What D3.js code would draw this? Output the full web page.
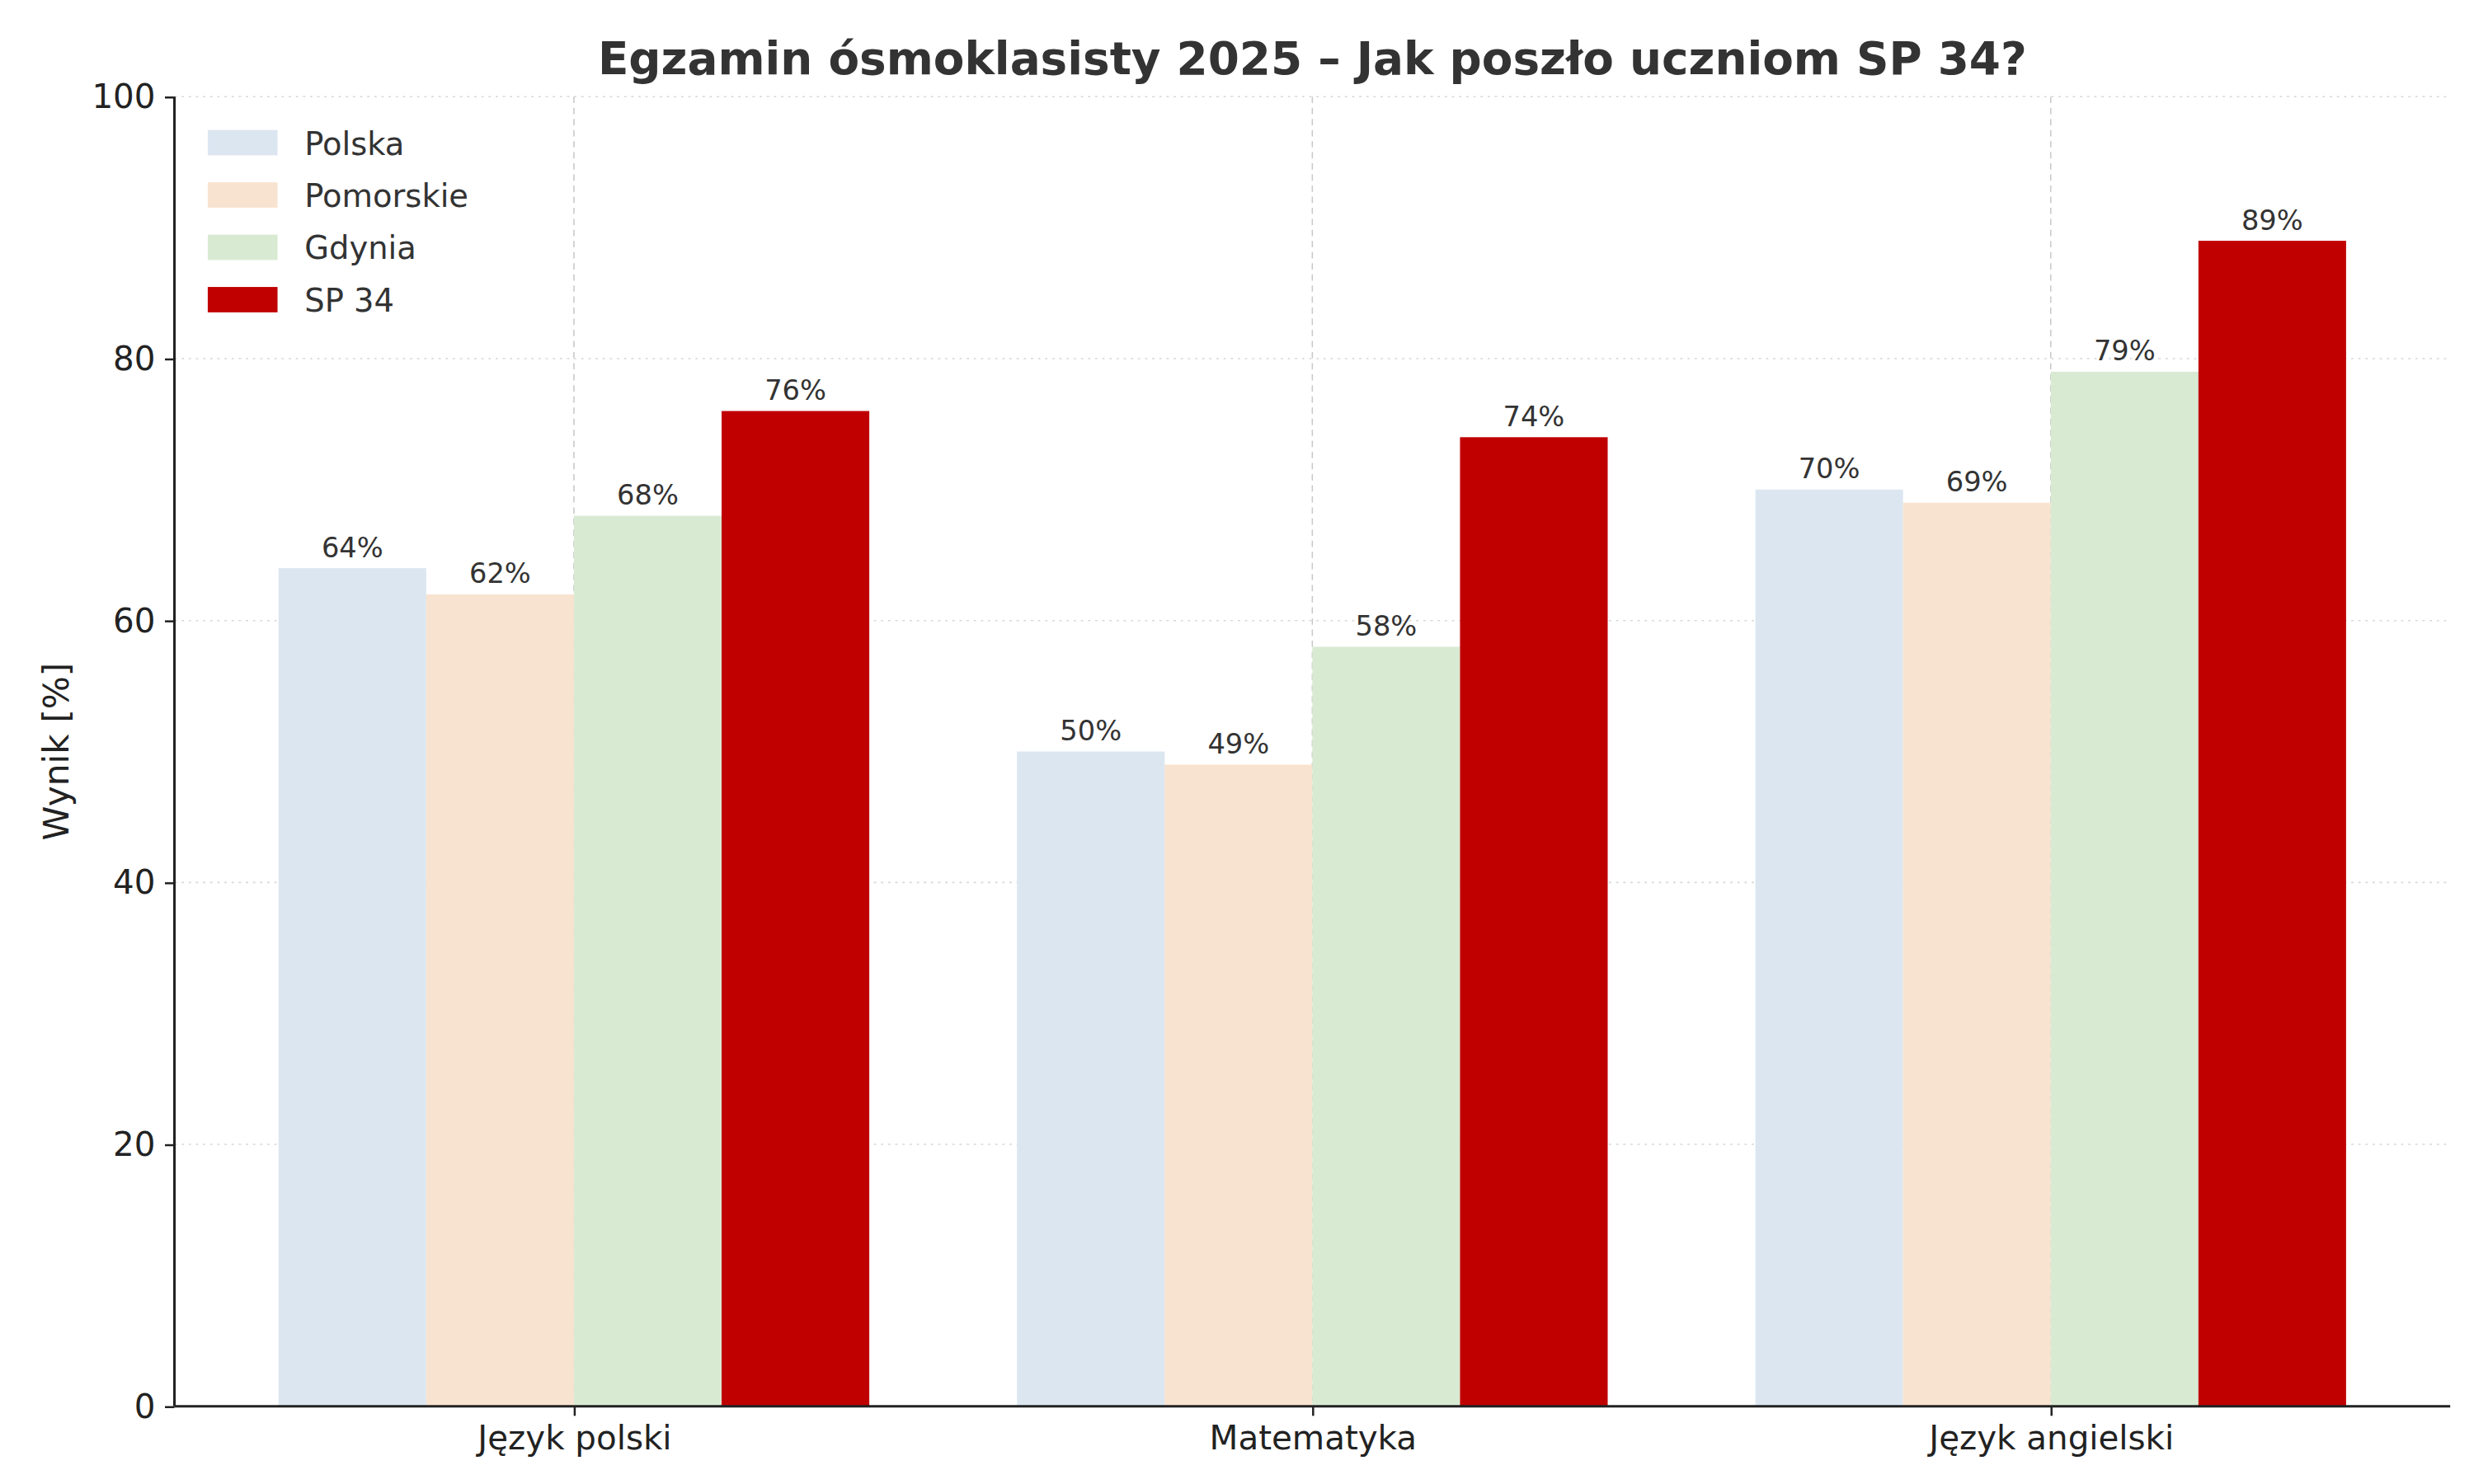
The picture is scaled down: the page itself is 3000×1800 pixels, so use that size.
<!DOCTYPE html>
<html><head><meta charset="utf-8">
<script src="https://cdn.jsdelivr.net/npm/d3@7"></script>
<style>body{margin:0;background:#fff}svg{display:block}</style>
</head><body>
<script>
const categories = ["Język polski", "Matematyka", "Język angielski"];
const seriesNames = ["Polska", "Pomorskie", "Gdynia", "SP 34"];
const polska = [64, 50, 70];
const pomorskie = [62, 49, 69];
const gdynia = [68, 58, 79];
const sp34 = [76, 74, 89];
const yTicks = [0, 20, 40, 60, 80, 100];
const colors = ["#dce6f1", "#f8e3d0", "#d9ead3", "#c00000"];
const seriesValues = [polska, pomorskie, gdynia, sp34];

const W = 1560, H = 936;
const svg = d3.select("body").append("svg").attr("width", 3000).attr("height", 1800)
  .attr("viewBox", `0 0 ${W} ${H}`);
const font = "DejaVu Sans";
const L = 110, R = 1545, T = 61, B = 887;
const x = d3.scaleLinear().domain([-0.541, 2.541]).range([L, R]);
const y = d3.scaleLinear().domain([0, 100]).range([B, T]);
const bw = 0.2;

// grids
svg.append("g").selectAll("line").data(yTicks).join("line")
  .attr("x1", L).attr("x2", R).attr("y1", d => y(d)).attr("y2", d => y(d))
  .attr("stroke", "#d8d8d8").attr("stroke-width", 0.8).attr("stroke-dasharray", "1.5,3");
svg.append("g").selectAll("line").data(categories).join("line")
  .attr("x1", (d, i) => x(i)).attr("x2", (d, i) => x(i)).attr("y1", T).attr("y2", B)
  .attr("stroke", "#c8c8c8").attr("stroke-width", 0.8).attr("stroke-dasharray", "4,3");

// bars
seriesValues.forEach((vals, s) => {
  const off = (s - 1.5) * bw;
  const g = svg.append("g");
  g.selectAll("rect").data(vals).join("rect")
    .attr("x", (d, i) => x(i + off - bw / 2)).attr("width", x(bw) - x(0))
    .attr("y", d => y(d)).attr("height", d => B - y(d)).attr("fill", colors[s]);
  g.selectAll("text").data(vals).join("text")
    .attr("x", (d, i) => x(i + off)).attr("y", d => y(d) - 7)
    .attr("text-anchor", "middle").attr("font-family", font).attr("font-size", 17.5)
    .attr("fill", "#333").text(d => d + "%");
});

// axes
const ya = svg.append("g").attr("transform", `translate(${L},0)`)
  .call(d3.axisLeft(y).tickValues(yTicks).tickSize(6).tickPadding(6));
const xa = svg.append("g").attr("transform", `translate(0,${B})`)
  .call(d3.axisBottom(x).tickValues([0, 1, 2]).tickFormat(i => categories[i]).tickSize(6).tickPadding(6));
[ya, xa].forEach(a => {
  a.selectAll("text").attr("font-family", font).attr("font-size", 21).attr("fill", "#222");
  a.selectAll("line").attr("stroke", "#222").attr("stroke-width", 1.3);
  a.select(".domain").attr("stroke", "#222").attr("stroke-width", 1.6);
});
ya.select(".domain").attr("d", `M0,${B}V${T}`);
xa.select(".domain").attr("d", `M${L},0H${R}`);

// title and label
svg.append("text").attr("x", (L + R) / 2).attr("y", 47).attr("text-anchor", "middle")
  .attr("font-family", font).attr("font-weight", "bold").attr("font-size", 28.5).attr("fill", "#333")
  .text("Egzamin ósmoklasisty 2025 – Jak poszło uczniom SP 34?");
svg.append("text").attr("transform", `translate(43,${(T + B) / 2}) rotate(-90)`)
  .attr("text-anchor", "middle").attr("font-family", font).attr("font-size", 22).attr("fill", "#222")
  .text("Wynik [%]");

// legend
const lg = svg.append("g").selectAll("g").data(seriesNames).join("g")
  .attr("transform", (d, i) => `translate(131,${90 + i * 33})`);
lg.append("rect").attr("x", 0).attr("y", -8).attr("width", 44).attr("height", 16)
  .attr("fill", (d, i) => colors[i]);
lg.append("text").attr("x", 61).attr("y", 7.5).attr("font-family", font).attr("font-size", 20)
  .attr("fill", "#333").text(d => d);
</script>
</body></html>
